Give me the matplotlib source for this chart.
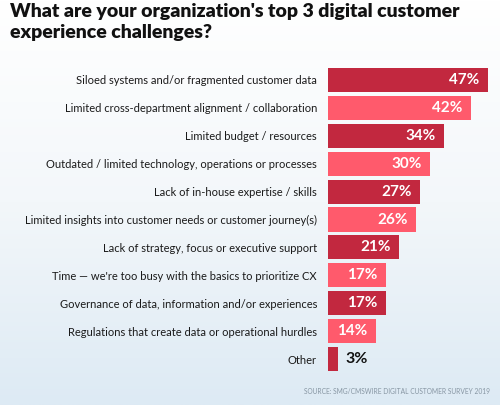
import numpy as np
import matplotlib
matplotlib.use("Agg")
import matplotlib.pyplot as plt
from matplotlib.colors import LinearSegmentedColormap

categories = [
    "Siloed systems and/or fragmented customer data",
    "Limited cross-department alignment / collaboration",
    "Limited budget / resources",
    "Outdated / limited technology, operations or processes",
    "Lack of in-house expertise / skills",
    "Limited insights into customer needs or customer journey(s)",
    "Lack of strategy, focus or executive support",
    "Time \u2014 we're too busy with the basics to prioritize CX",
    "Governance of data, information and/or experiences",
    "Regulations that create data or operational hurdles",
    "Other",
]
values = [47, 42, 34, 30, 27, 26, 21, 17, 17, 14, 3]

DARK = "#C2283F"
LIGHT = "#FF5A6C"
FONT = "Lato"

W, H = 500, 405
fig = plt.figure(figsize=(W / 100, H / 100), dpi=100)

# background gradient
bg = fig.add_axes([0, 0, 1, 1], zorder=-10)
grad = np.linspace(0, 1, 256).reshape(-1, 1)
cmap = LinearSegmentedColormap.from_list("bg", ["#FFFFFF", "#F3F7FA", "#DDEAF4"])
bg.imshow(grad, aspect="auto", cmap=cmap, extent=[0, 1, 0, 1], origin="upper")
bg.axis("off")

fig.text(10 / W, 1 - 3 / H,
         "What are your organization's top 3 digital customer\nexperience challenges?",
         ha="left", va="top", fontsize=14, fontweight="heavy", family=FONT,
         color="#111111", linespacing=1.3)

left, right_px = 328, 328 + 170
top_px, bot_px = 66, 373
ax = fig.add_axes([left / W, 1 - bot_px / H, (right_px - left) / W, (bot_px - top_px) / H])
ax.patch.set_alpha(0)
y = np.arange(len(values))
colors = [DARK if i % 2 == 0 else LIGHT for i in range(len(values))]
ax.barh(y, values, height=0.86, color=colors)
ax.set_xlim(0, 50)
ax.set_ylim(len(values) - 0.5, -0.5)
ax.set_yticks(y)
ax.set_yticklabels(categories, fontsize=8, family=FONT, color="#1a1a1a")
ax.tick_params(axis="y", length=0, pad=8)
ax.set_xticks([])
for s in ax.spines.values():
    s.set_visible(False)

for yi, v in zip(y, values):
    if v >= 10:
        ax.annotate(f"{v}%", (v, yi), xytext=(-6, 0), textcoords="offset points",
                    ha="right", va="center", color="white", fontsize=11,
                    fontweight="bold", family=FONT)
    else:
        ax.annotate(f"{v}%", (v, yi), xytext=(5, 0), textcoords="offset points",
                    ha="left", va="center", color="#111111", fontsize=11.5,
                    fontweight="bold", family=FONT)

fig.text(490 / W, 1 - 392 / H, "SOURCE: SMG/CMSWIRE DIGITAL CUSTOMER SURVEY 2019",
         ha="right", va="center", fontsize=4.8, color="#8796A3", family=FONT)

fig.savefig("out.png", dpi=100)
